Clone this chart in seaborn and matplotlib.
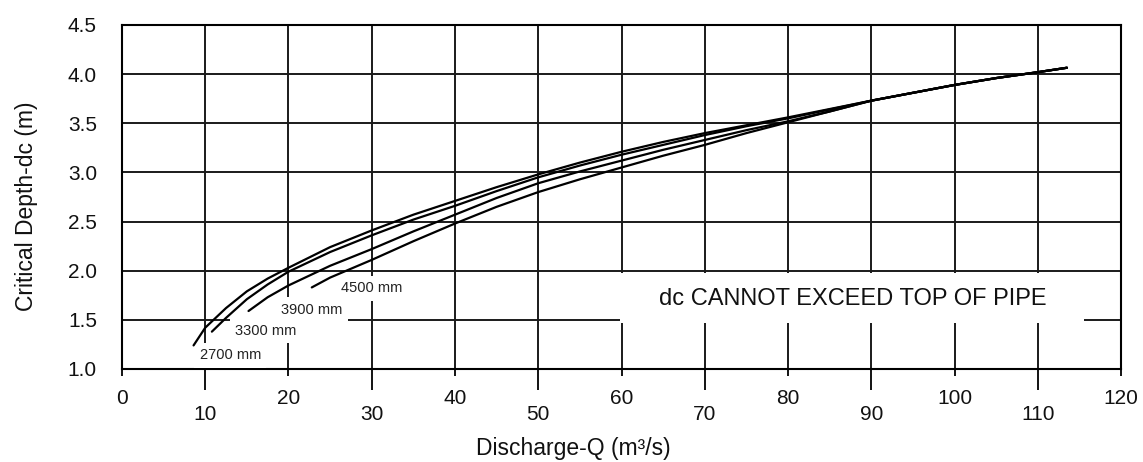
import pandas as pd
import matplotlib.pyplot as plt
import seaborn as sns
from matplotlib.patches import Rectangle

# =====================================================
# DATA
# =====================================================

PIPES = ["2700 mm", "3300 mm", "3900 mm", "4500 mm"]

# shared upper part where all curves run together
Q_TAIL = [95, 100, 105, 110, 113.5]
DC_TAIL = [3.81, 3.89, 3.96, 4.02, 4.065]

Q_2700 = [8.6, 10, 12.5, 15, 17.5, 20, 25, 30, 35, 40, 45, 50, 55, 60,
          65, 70, 75, 80, 85, 90] + Q_TAIL
DC_2700 = [1.24, 1.42, 1.62, 1.79, 1.92, 2.03, 2.24, 2.41, 2.57, 2.71, 2.85,
           2.98, 3.10, 3.21, 3.31, 3.40, 3.48, 3.56, 3.645, 3.73] + DC_TAIL

Q_3300 = [10.8, 12.5, 15, 17.5, 20, 25, 30, 35, 40, 45, 50, 55, 60, 65,
          70, 75, 80, 85, 90] + Q_TAIL
DC_3300 = [1.38, 1.52, 1.71, 1.86, 1.99, 2.19, 2.36, 2.52, 2.66, 2.81, 2.95,
           3.07, 3.18, 3.28, 3.38, 3.47, 3.55, 3.64, 3.73] + DC_TAIL

Q_3900 = [15.2, 17.5, 20, 25, 30, 35, 40, 45, 50, 55, 60, 65, 70, 75,
          80, 85, 90] + Q_TAIL
DC_3900 = [1.59, 1.73, 1.85, 2.05, 2.22, 2.40, 2.57, 2.74, 2.89, 3.01, 3.12,
           3.23, 3.33, 3.43, 3.52, 3.62, 3.73] + DC_TAIL

Q_4500 = [22.8, 25, 30, 35, 40, 45, 50, 55, 60, 65, 70, 75, 80, 85, 90] + Q_TAIL
DC_4500 = [1.83, 1.93, 2.11, 2.30, 2.48, 2.65, 2.80, 2.93, 3.05, 3.17, 3.28,
           3.40, 3.51, 3.62, 3.73] + DC_TAIL

# label anchor for each pipe curve (Q, dc)
LABEL_Q = [13.0, 17.3, 22.8, 30.0]
LABEL_DC = [1.14, 1.39, 1.60, 1.82]

X_TICKS_MAJOR = [0, 20, 40, 60, 80, 100, 120]
X_TICKS_MINOR = [10, 30, 50, 70, 90, 110]
Y_TICKS = [1.0, 1.5, 2.0, 2.5, 3.0, 3.5, 4.0, 4.5]
Y_TICK_LABELS = ["1.0", "1.5", "2.0", "2.5", "3.0", "3.5", "4.0", "4.5"]

NOTE = "dc CANNOT EXCEED TOP OF PIPE"

# =====================================================
# LONG FORMAT TABLE
# =====================================================

curves = [
    (PIPES[0], Q_2700, DC_2700),
    (PIPES[1], Q_3300, DC_3300),
    (PIPES[2], Q_3900, DC_3900),
    (PIPES[3], Q_4500, DC_4500),
]

df = pd.concat(
    [pd.DataFrame({"pipe": name, "Q": q, "dc": dc}) for name, q, dc in curves],
    ignore_index=True
)

# =====================================================
# STYLE
# =====================================================

sns.set_theme(style="white")
plt.rcParams["font.family"] = ["Liberation Sans", "DejaVu Sans"]

fig = plt.figure(figsize=(11.43, 4.62), dpi=100)
ax = fig.add_axes([0.1067, 0.2013, 0.8741, 0.7446])

# =====================================================
# CURVES
# =====================================================

sns.lineplot(
    data=df,
    x="Q",
    y="dc",
    units="pipe",
    estimator=None,
    sort=False,
    color="black",
    lw=1.6,
    ax=ax,
    zorder=4
)

# curve labels
for name, q, dc in zip(PIPES, LABEL_Q, LABEL_DC):
    ax.text(
        q, dc, name,
        fontsize=10.5, color="#222222",
        ha="center", va="center", zorder=3,
        bbox=dict(fc="white", ec="none", pad=4)
    )

# note box
ax.add_patch(Rectangle((59.8, 1.47), 55.8, 0.51, fc="white", ec="none", zorder=2))
ax.text(87.8, 1.65, NOTE, fontsize=17, color="#111111",
        ha="center", va="baseline", zorder=3)

# =====================================================
# AXES
# =====================================================

ax.set_xlim(0, 120)
ax.set_ylim(1.0, 4.5)

ax.set_xticks(X_TICKS_MAJOR)
ax.set_xticks(X_TICKS_MINOR, minor=True)
ax.set_xticklabels([str(v) for v in X_TICKS_MAJOR])
ax.set_xticklabels([str(v) for v in X_TICKS_MINOR], minor=True)
ax.set_yticks(Y_TICKS)
ax.set_yticklabels(Y_TICK_LABELS)

ax.tick_params(axis="x", which="major", direction="out", length=5, width=1.3,
               color="black", pad=9.4, labelsize=15, labelcolor="#111111")
ax.tick_params(axis="x", which="minor", direction="out", length=15, width=1.3,
               color="black", pad=10.8, labelsize=15, labelcolor="#111111")
ax.tick_params(axis="y", length=0, pad=18, labelsize=15, labelcolor="#111111")
ax.tick_params(bottom=True, which="both")

ax.set_axisbelow(True)
ax.grid(True, axis="x", which="both", color="#1a1a1a", lw=1.4)
ax.grid(True, axis="y", which="major", color="#1a1a1a", lw=1.4)

for spine in ax.spines.values():
    spine.set_color("black")
    spine.set_linewidth(1.5)

ax.set_xlabel("Discharge-Q (m³/s)", fontsize=16.5, color="#111111")
ax.set_ylabel("Critical Depth-dc (m)", fontsize=16.5, color="#111111")
ax.xaxis.set_label_coords(0.452, -0.198)
ax.yaxis.set_label_coords(-0.084, 0.474)

fig.savefig("out.png", dpi=100, facecolor="white")
